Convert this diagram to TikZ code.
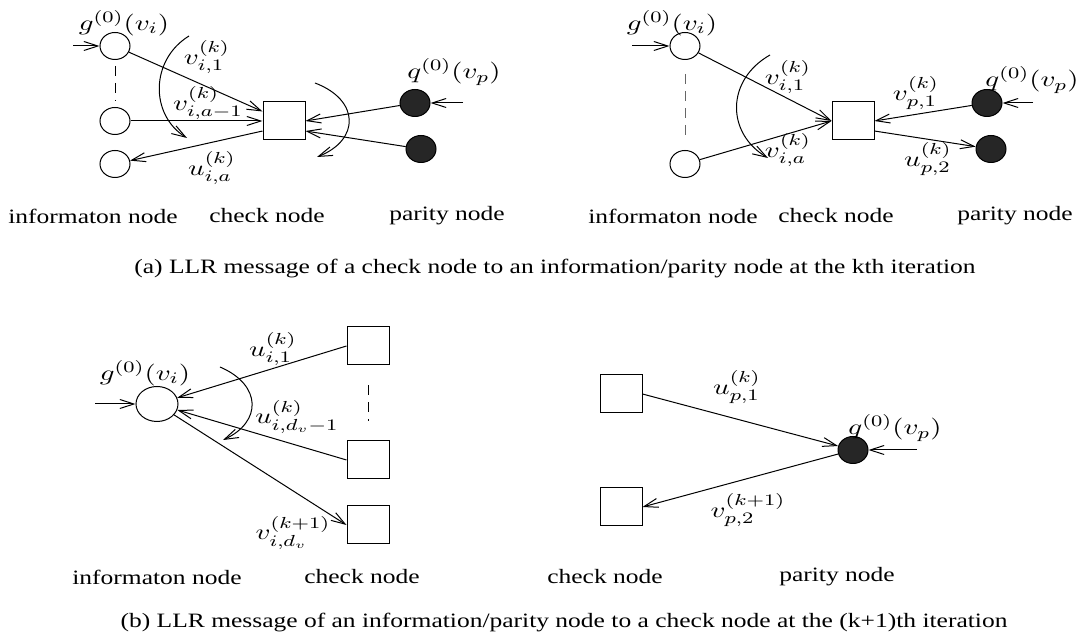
\documentclass[tikz,border=0pt]{standalone}
\usepackage[no-math]{fontspec}
\usepackage{graphicx}
\setmainfont{Liberation Serif}[FakeStretch=1.25]
\usetikzlibrary{shapes.geometric,arrows.meta}
\newcommand{\mwide}[1]{\scalebox{1.32}[1]{$#1$}}
\tikzset{
  infnode/.style={ellipse, draw, minimum width=15pt, minimum height=13.5pt, inner sep=0pt},
  parnode/.style={infnode, fill=black!85},
  chknode/.style={rectangle, draw, minimum width=21pt, minimum height=19pt, inner sep=0pt},
  msg/.style={-{Straight Barb[length=7pt,width=4.5pt]}},
  vdash/.style={dash pattern=on 5pt off 3.5pt},
  lbl/.style={font=\fontsize{10.8}{13}\selectfont, inner sep=0pt},
  txt/.style={font=\fontsize{10.2}{12}\selectfont, inner sep=0pt},
}
\begin{document}
\begin{tikzpicture}[x=0.5pt,y=-0.5pt,line width=0.5pt]
\useasboundingbox (0,0) rectangle (1084,640);
% (a) left
\node[infnode] (ai1) at (115,46){};
\node[infnode] (ai2) at (115,121){};
\node[infnode] (ai3) at (115,164){};
\node[chknode] (ac) at (284,121){};
\node[parnode] (ap1) at (415,103){};
\node[parnode] (ap2) at (421,149){};
\coordinate (ain) at (73,46);
\coordinate (apin) at (463,103);
\draw[msg] (ain) -- (ai1);
\draw[msg] (apin) -- (ap1);
\draw[vdash, shorten <=3pt, shorten >=3pt] (ai1) -- (ai2);
\draw[msg] (ai1) -- (ac);
\draw[msg] (ai2) -- (ac);
\draw[msg] (ac.205) -- (ai3);
\draw[msg] (ap1) -- (ac.east);
\draw[msg] (ap2) -- (ac.335);
\coordinate (acl1) at (189,36);
\coordinate (acl2) at (187,138);
\draw[msg] (acl1) .. controls (150,60) and (150,115) .. (acl2);
\coordinate (acr1) at (315,83);
\coordinate (acr2) at (317,157);
\draw[msg] (acr1) .. controls (360,100) and (360,140) .. (acr2);
\node[lbl] (ag) at (124,23){\mwide{g^{(0)}(v_i)}};
\node[lbl] (aq) at (454,72){\mwide{q^{(0)}(v_p)}};
\node[lbl] (av1) at (207,57){\mwide{v_{i,1}^{(k)}}};
\node[lbl] (ava) at (208,103){\mwide{v_{i,a-1}^{(k)}}};
\node[lbl] (aua) at (212,168){\mwide{u_{i,a}^{(k)}}};
\node[txt] (alinf) at (93,216){informaton node};
\node[txt] (alchk) at (267,216){check node};
\node[txt] (alpar) at (447,216){parity node};
% (a) right
\node[infnode] (bi1) at (685,46){};
\node[infnode] (bi2) at (685,164){};
\node[chknode] (bc) at (853,121){};
\node[parnode] (bp1) at (987,103){};
\node[parnode] (bp2) at (991,149){};
\coordinate (bin) at (632,46);
\coordinate (bpin) at (1033,103);
\draw[msg] (bin) -- (bi1);
\draw[msg] (bpin) -- (bp1);
\draw[vdash, draw=black!60, shorten <=7pt, shorten >=4.5pt] (bi1) -- (bi2);
\draw[msg] (bi1) -- (bc.west);
\draw[msg] (bi2) -- (bc.west);
\draw[msg] (bp1) -- (bc.east);
\draw[msg] (bc.335) -- (bp2);
\coordinate (bcl1) at (770,55);
\coordinate (bcl2) at (768,158);
\draw[msg] (bcl1) .. controls (726,80) and (726,133) .. (bcl2);
\node[lbl] (bg) at (672,23){\mwide{g^{(0)}(v_i)}};
\node[lbl] (bq) at (1032,80){\mwide{q^{(0)}(v_p)}};
\node[lbl] (bv1) at (788,77){\mwide{v_{i,1}^{(k)}}};
\node[lbl] (bva) at (788,150){\mwide{v_{i,a}^{(k)}}};
\node[lbl] (bvp) at (916,93){\mwide{v_{p,1}^{(k)}}};
\node[lbl] (bup) at (928,159){\mwide{u_{p,2}^{(k)}}};
\node[txt] (blinf) at (673,216){informaton node};
\node[txt] (blchk) at (836,216){check node};
\node[txt] (blpar) at (1015,216){parity node};
\node[txt] (capa) at (555,269){(a) LLR message of a check node to an information/parity node at the kth iteration};
% (b) left
\node[infnode, minimum width=21pt, minimum height=17.5pt] (ci) at (157,404){};
\node[chknode] (cc1) at (368,346){};
\node[chknode] (cc2) at (368,460){};
\node[chknode] (cc3) at (368,525){};
\coordinate (cin) at (95,404);
\draw[msg] (cin) -- (ci);
\draw[vdash, shorten <=10pt, shorten >=9.5pt] (cc1) -- (cc2);
\draw[msg] (cc1.west) -- (ci);
\draw[msg] (cc2.west) -- (ci);
\draw[msg] (ci) -- (cc3.west);
\coordinate (ccl1) at (220,367);
\coordinate (ccl2) at (223,440);
\draw[msg] (ccl1) .. controls (262,385) and (262,422) .. (ccl2);
\node[lbl] (cg) at (145,373){\mwide{g^{(0)}(v_i)}};
\node[lbl] (cu1) at (273,349){\mwide{u_{i,1}^{(k)}}};
\node[lbl] (cud) at (297,417){\mwide{u_{i,d_v-1}^{(k)}}};
\node[lbl] (cvd) at (293,533){\mwide{v_{i,d_v}^{(k+1)}}};
\node[txt] (clinf) at (157,577){informaton node};
\node[txt] (clchk) at (362,577){check node};
% (b) right
\node[chknode] (dc1) at (621,394){};
\node[chknode] (dc2) at (621,507){};
\node[parnode] (dp) at (853,450){};
\coordinate (dpin) at (917,450);
\draw[msg] (dpin) -- (dp);
\draw[msg] (dc1.east) -- (dp);
\draw[msg] (dp) -- (dc2.east);
\node[lbl] (dq) at (895,428){\mwide{q^{(0)}(v_p)}};
\node[lbl] (du1) at (737,387){\mwide{u_{p,1}^{(k)}}};
\node[lbl] (dv2) at (748,510){\mwide{v_{p,2}^{(k+1)}}};
\node[txt] (dlchk) at (605,577){check node};
\node[txt] (dlpar) at (837,577){parity node};
\node[txt] (capb) at (564,623){(b) LLR message of an information/parity node to a check node at the (k+1)th iteration};
\end{tikzpicture}
\end{document}
